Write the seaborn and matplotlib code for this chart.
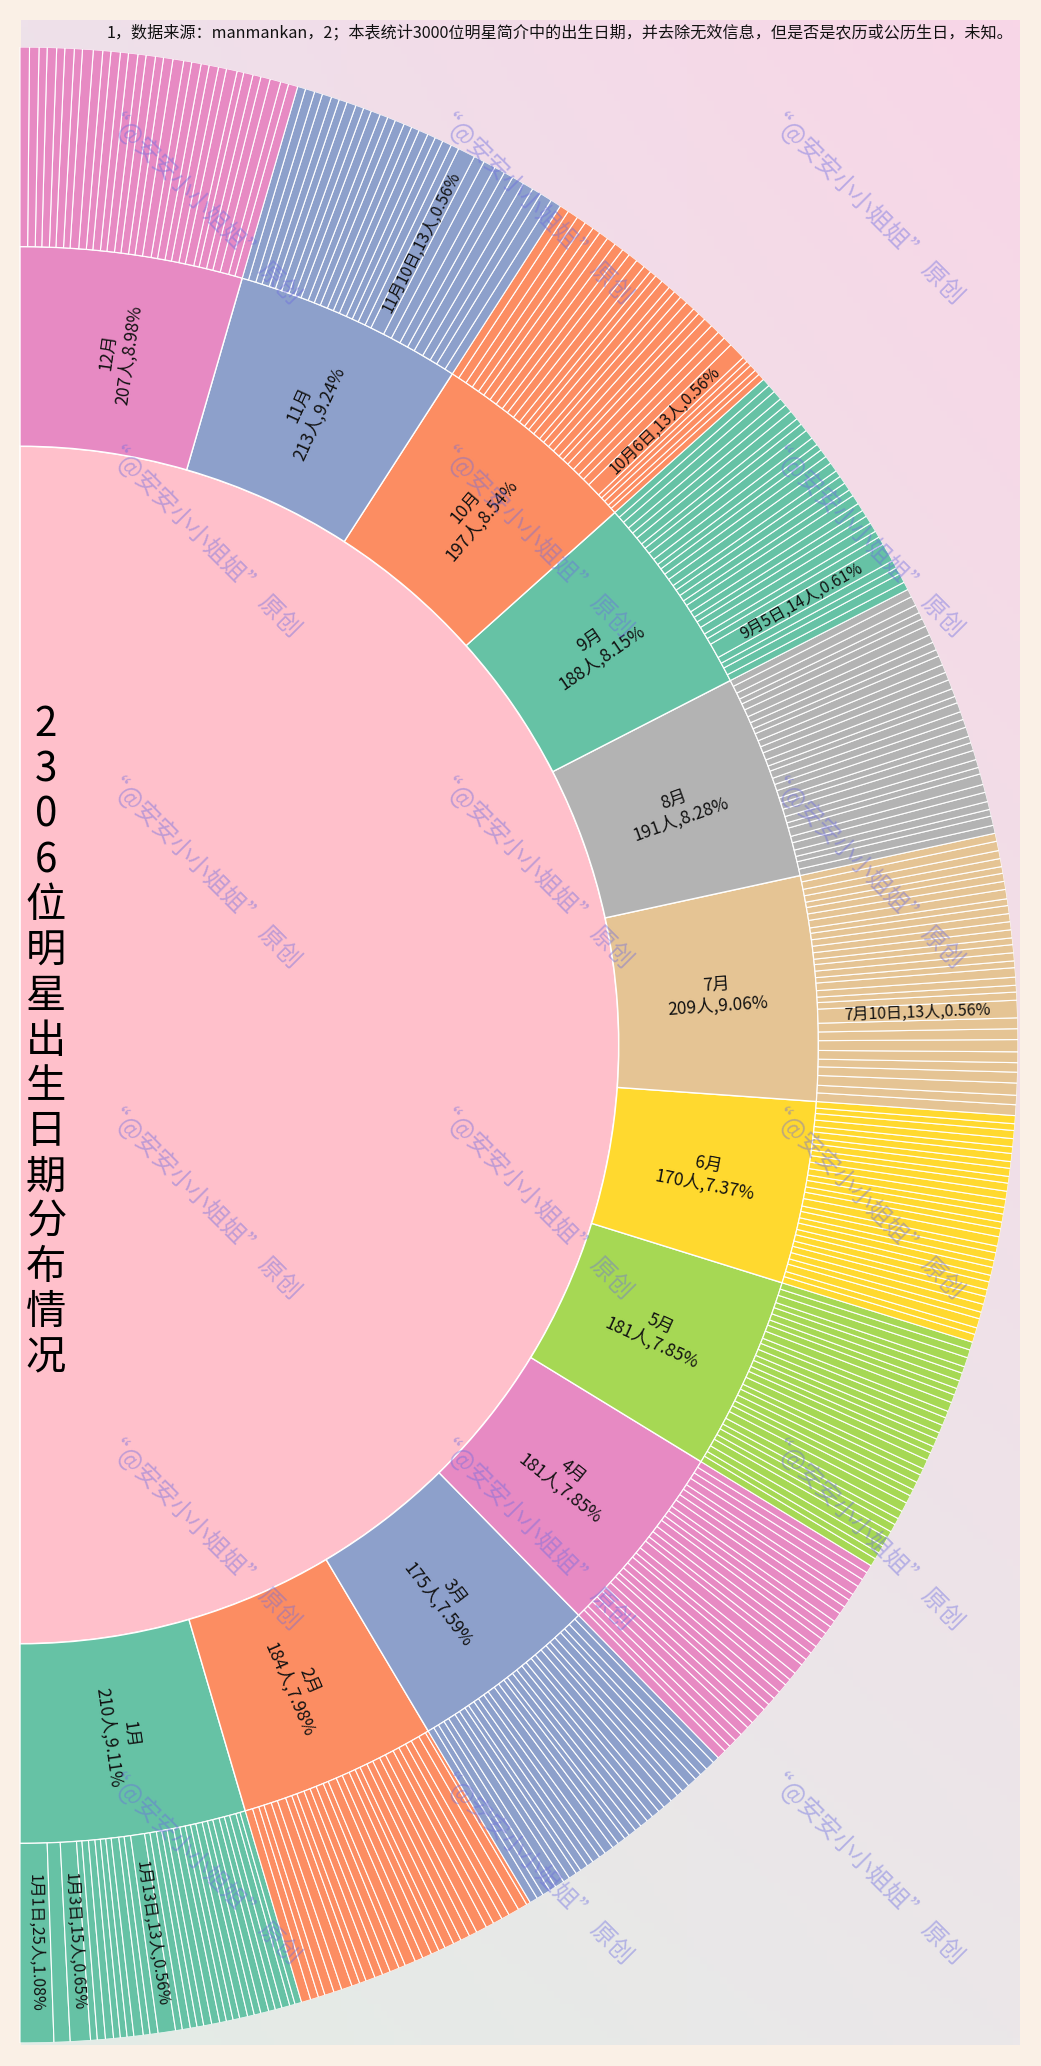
import numpy as np
import matplotlib
matplotlib.use("Agg")
import matplotlib.pyplot as plt
import matplotlib.colors as mcolors
import seaborn as sns

# ---------------- data ----------------
months = ["1月", "2月", "3月", "4月", "5月", "6月", "7月", "8月", "9月", "10月", "11月", "12月"]
month_counts = [210, 184, 175, 181, 181, 170, 209, 191, 188, 197, 213, 207]

days_jan = [25, 12, 15, 5, 6, 6, 5, 5, 5, 7, 5, 6, 13, 5, 6, 5, 5, 6, 6, 5, 5, 5, 6, 5, 5, 6, 5, 5, 6, 4, 5]
days_feb = [7, 6, 5, 7, 6, 8, 6, 5, 7, 6, 6, 7, 5, 8, 6, 7, 6, 5, 7, 6, 7, 6, 8, 6, 7, 6, 8, 7, 3]
days_mar = [6, 5, 6, 5, 7, 5, 6, 4, 6, 5, 6, 5, 7, 5, 6, 4, 6, 5, 6, 5, 6, 5, 7, 6, 5, 6, 7, 5, 6, 7, 5]
days_apr = [7, 5, 6, 6, 7, 5, 6, 7, 5, 6, 6, 7, 5, 6, 8, 5, 6, 6, 7, 5, 6, 5, 7, 6, 6, 5, 7, 6, 6, 6]
days_may = [6, 5, 6, 7, 5, 6, 5, 6, 7, 6, 5, 6, 6, 5, 7, 6, 5, 6, 5, 6, 6, 5, 7, 6, 5, 6, 6, 5, 7, 6, 6]
days_jun = [6, 5, 7, 5, 6, 6, 5, 6, 5, 6, 5, 6, 5, 7, 6, 5, 6, 5, 6, 6, 6, 5, 6, 5, 6, 5, 6, 6, 5, 6]
days_jul = [8, 7, 9, 8, 7, 8, 9, 8, 8, 13, 6, 5, 6, 7, 5, 6, 6, 5, 6, 6, 6, 6, 5, 7, 6, 6, 5, 6, 6, 7, 6]
days_aug = [6, 7, 5, 6, 7, 6, 8, 5, 6, 7, 6, 5, 7, 6, 6, 7, 5, 6, 7, 6, 6, 7, 5, 6, 6, 7, 6, 5, 6, 7, 6]
days_sep = [6, 7, 5, 6, 14, 6, 5, 7, 6, 5, 6, 7, 5, 6, 6, 5, 7, 6, 6, 5, 6, 7, 6, 5, 7, 6, 6, 7, 6, 6]
days_oct = [5, 4, 5, 4, 4, 13, 7, 6, 7, 7, 6, 5, 7, 6, 6, 5, 7, 6, 5, 6, 7, 7, 6, 7, 7, 7, 6, 7, 7, 8, 7]
days_nov = [8, 9, 7, 8, 9, 7, 8, 9, 8, 13, 6, 7, 6, 6, 7, 6, 6, 7, 6, 6, 7, 6, 6, 7, 6, 6, 7, 6, 7, 6]
days_dec = [7, 6, 8, 7, 6, 7, 5, 8, 6, 7, 6, 7, 6, 8, 7, 6, 7, 6, 7, 6, 7, 6, 7, 8, 6, 7, 6, 7, 6, 7, 7]
day_counts = [days_jan, days_feb, days_mar, days_apr, days_may, days_jun,
              days_jul, days_aug, days_sep, days_oct, days_nov, days_dec]

title_text = "2306位明星出生日期分布情况"
subtitle_text = ("1，数据来源：manmankan，2；本表统计3000位明星简介中的出生日期，"
                 "并去除无效信息，但是否是农历或公历生日，未知。")
watermark_text = "“@安安小小姐姐” 原创"
label_min_count = 13

# ---------------- style ----------------
sns.set_theme(style="white")
plt.rcParams["font.family"] = ["Noto Sans CJK SC", "DejaVu Sans"]
palette = sns.color_palette("Set2", 8)
center_color = "#ffc0cb"

W, H = 1041, 2066
fig = plt.figure(figsize=(W / 100, H / 100), dpi=100, facecolor="#faf0e6")

# background panel with soft gradient
pl, pr, pt, pb = 21, 1020, 20, 2045
bg = fig.add_axes([pl / W, 1 - pb / H, (pr - pl) / W, (pb - pt) / H], zorder=0)
tl = np.array(mcolors.to_rgb("#eee1ea"))
tr = np.array(mcolors.to_rgb("#f8d6e7"))
bl = np.array(mcolors.to_rgb("#e3ece6"))
br = np.array(mcolors.to_rgb("#ebe7e9"))
yy, xx = np.mgrid[0:1:300j, 0:1:150j]
yy = yy[..., None]
xx = xx[..., None]
img = (1 - yy) * ((1 - xx) * tl + xx * tr) + yy * ((1 - xx) * bl + xx * br)
bg.imshow(img, extent=[0, 1, 0, 1], aspect="auto", origin="upper")
bg.axis("off")

# polar axes: centre at left edge of the panel
cx, cy, R = 20, 1045, 998
ax = fig.add_axes([(cx - R) / W, 1 - (cy + R) / H, 2 * R / W, 2 * R / H],
                  projection="polar", zorder=1)
ax.set_ylim(0, 1)
ax.axis("off")

total = sum(month_counts)
start = -np.pi / 2
m_counts = np.array(month_counts, dtype=float)
m_starts = start + np.pi * np.concatenate([[0], np.cumsum(m_counts)[:-1]]) / total
m_widths = np.pi * m_counts / total
m_colors = [palette[i % 8] for i in range(len(months))]

flat_days = np.array([c for mon in day_counts for c in mon], dtype=float)
d_starts = start + np.pi * np.concatenate([[0], np.cumsum(flat_days)[:-1]]) / total
d_widths = np.pi * flat_days / total
d_colors = [palette[i % 8] for i, mon in enumerate(day_counts) for _ in mon]

# centre disc
ax.bar(start, 0.6, width=np.pi, bottom=0, align="edge", color=center_color,
       edgecolor="white", linewidth=1.2)
# month ring
ax.bar(m_starts, 0.2, width=m_widths, bottom=0.6, align="edge", color=m_colors,
       edgecolor="white", linewidth=1.0)
# day ring
ax.bar(d_starts, 0.2, width=d_widths, bottom=0.8, align="edge", color=d_colors,
       edgecolor="white", linewidth=0.8)

# month labels
for m, c, s, w in zip(months, month_counts, m_starts, m_widths):
    mid = s + w / 2
    ax.text(mid, 0.7, f"{m}\n{c}人,{c / total * 100:.2f}%", rotation=np.degrees(mid),
            rotation_mode="anchor", ha="center", va="center", fontsize=12.5,
            color="#111111", linespacing=1.2, zorder=5)

# day labels (only the large days)
k = 0
for mi, mon in enumerate(day_counts):
    for di, c in enumerate(mon):
        if c >= label_min_count:
            mid = d_starts[k] + d_widths[k] / 2
            ax.text(mid, 0.9, f"{months[mi]}{di + 1}日,{c}人,{c / total * 100:.2f}%",
                    rotation=np.degrees(mid), rotation_mode="anchor", ha="center",
                    va="center", fontsize=11.5, color="#111111", zorder=5)
        k += 1

# vertical title
for i, ch in enumerate(title_text):
    fig.text(46 / W, 1 - (725 + i * 45.2) / H, ch, ha="center", va="center",
             fontsize=29, color="black", zorder=6)

# subtitle
fig.text(1013 / W, 1 - 33 / H, subtitle_text, ha="right", va="center",
         fontsize=11.6, color="#111111", zorder=6)

# watermark grid
for x in [200, 532, 863]:
    for y in [204, 537, 868, 1199, 1530, 1864]:
        fig.text(x / W, 1 - y / H, watermark_text, rotation=-45, rotation_mode="anchor",
                 ha="center", va="center", fontsize=17.5, color="#6a6ae0", alpha=0.42,
                 zorder=7)

fig.savefig("out.png", dpi=100, facecolor=fig.get_facecolor())
